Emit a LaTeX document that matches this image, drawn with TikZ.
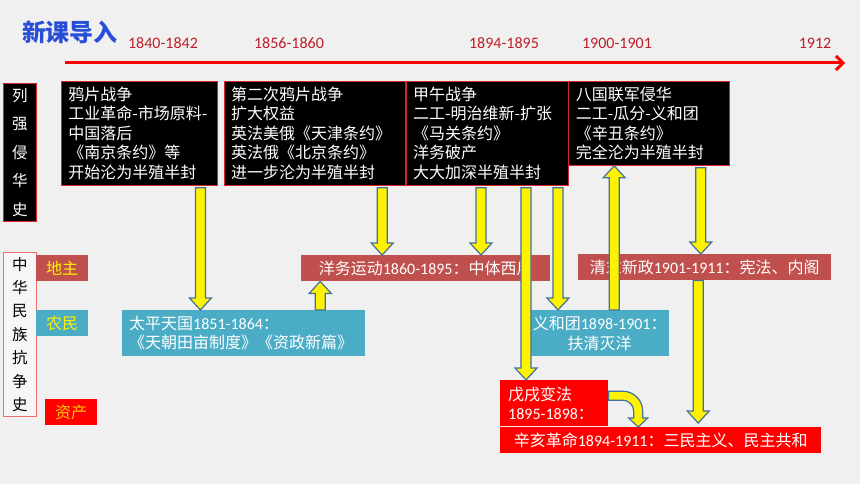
\documentclass[tikz,border=0pt]{standalone}
\usepackage{fontspec}
\setmainfont{Noto Sans CJK SC}
\newfontfamily\lat{Carlito}
\usetikzlibrary{arrows.meta, positioning, calc}

\definecolor{pagegray}{RGB}{240,240,240}
\definecolor{boxred}{RGB}{220,36,40}
\definecolor{brickred}{RGB}{192,80,77}
\definecolor{skyblue}{RGB}{75,172,198}
\definecolor{arrowedge}{RGB}{65,113,156}
\definecolor{titleblue}{RGB}{40,78,214}
\definecolor{datered}{RGB}{192,30,40}
\definecolor{goldtext}{RGB}{255,200,0}
\definecolor{pinkline}{RGB}{240,110,110}

\newcommand{\cn}{\fontsize{16}{19.5}\selectfont}

\begin{document}
\begin{tikzpicture}[
    x=1pt, y=-1pt,
    evt/.style={rectangle, draw=boxred, line width=0.8pt, fill=black, text=white, align=left, inner xsep=7pt, inner ysep=2pt, minimum height=104pt, font=\cn},
    band/.style={rectangle, text=white, inner sep=0pt, minimum height=26pt, align=center, font=\cn, anchor=north west},
    tag/.style={rectangle, text=yellow, inner sep=0pt, minimum width=52pt, minimum height=26pt, font=\cn, anchor=north west},
    yearlbl/.style={text=datered, font=\lat\fontsize{16}{18}\selectfont},
    fat/.style={draw=arrowedge, fill=yellow, line width=1.2pt, line join=miter,
      to path={let \p1=(\tikztostart), \p2=(\tikztotarget), \n1={sign(\y1-\y2)} in
        (\x1-5pt,\y1) -- (\x1-5pt,\y2+\n1*12pt) -- (\x1-11pt,\y2+\n1*12pt) -- (\x1,\y2)
        -- (\x1+11pt,\y2+\n1*12pt) -- (\x1+5pt,\y2+\n1*12pt) -- (\x1+5pt,\y1) -- cycle}},
    fatbend/.style={draw=arrowedge, fill=yellow, line width=1.2pt, line join=miter,
      to path={let \p1=(\tikztostart), \p2=(\tikztotarget) in
        (\x1,\y1+4.5pt) -- (\x2-15.5pt,\y1+4.5pt)
        .. controls (\x2-4.45pt,\y1+4.5pt) and (\x2+4.5pt,\y1-4.45pt) .. (\x2+4.5pt,\y1-15.5pt)
        -- (\x2+4.5pt,\y2+9pt) -- (\x2+9.5pt,\y2+9pt) -- (\x2,\y2) -- (\x2-9.5pt,\y2+9pt) -- (\x2-4.5pt,\y2+9pt)
        -- (\x2-4.5pt,\y1-15.5pt)
        .. controls (\x2-4.5pt,\y1-9.42pt) and (\x2-9.42pt,\y1-4.5pt) .. (\x2-15.5pt,\y1-4.5pt)
        -- (\x1,\y1-4.5pt) -- cycle}}
  ]
  \fill[pagegray] (0,0) rectangle (860,484);
  \useasboundingbox (0,0) rectangle (860,484);

  % Titel und Zeitleiste
  \node[font=\fontsize{24}{28}\selectfont\bfseries, text=titleblue] (title) at (70,32) {新课导入};
  \coordinate (tl0) at (65,63);
  \coordinate (tl1) at (845,63);
  \draw[red, line width=3pt, -{Straight Barb[length=7pt, width=14pt]}] (tl0) -- (tl1);
  \node[yearlbl] (y1) at (163,43.5) {1840-1842};
  \node[yearlbl] (y2) at (289,43.5) {1856-1860};
  \node[yearlbl] (y3) at (504,43.5) {1894-1895};
  \node[yearlbl] (y4) at (617,43.5) {1900-1901};
  \node[yearlbl] (y5) at (815,43.5) {1912};

  % linke Spalten
  \node[rectangle, draw=boxred, fill=black, text=white, line width=0.8pt, minimum width=33pt, minimum height=138pt, inner sep=0pt, align=center, anchor=north west, font=\fontsize{15.5}{28.5}\selectfont] (lieqiang) at (3,83) {列\\强\\侵\\华\\史};
  \node[rectangle, draw=pinkline, fill=white!40!pagegray, text=black, line width=0.8pt, minimum width=33pt, minimum height=164pt, inner sep=0pt, align=center, anchor=north west, font=\fontsize{15.5}{23.4}\selectfont] (kangzheng) at (3,252) {中\\华\\民\\族\\抗\\争\\史};
  \node[tag, fill=brickred] (dizhu) at (36,255) {地主};
  \node[tag, fill=skyblue] (nongmin) at (36,310) {农民};
  \node[tag, fill=red, text=goldtext] (zichan) at (45,399) {资产};

  % Kriege
  \node[evt, text width=142pt, anchor=north west] (yapian) at (61,81) {鸦片战争\\工业革命-市场原料-\\中国落后\\《南京条约》等\\开始沦为半殖半封};
  \node[evt, text width=167pt, right=6pt of yapian] (erci) {第二次鸦片战争\\扩大权益\\英法美俄《天津条约》\\英法俄《北京条约》\\进一步沦为半殖半封};
  \node[evt, text width=148pt, right=0pt of erci] (jiawu) {甲午战争\\二工-明治维新-扩张\\《马关条约》\\洋务破产\\大大加深半殖半封};
  \node[evt, text width=147pt, minimum height=84pt, anchor=north west] (baguo) at (jiawu.north east) {八国联军侵华\\二工-瓜分-义和团\\《辛丑条约》\\完全沦为半殖半封};

  % Bewegungen
  \node[band, fill=brickred, minimum width=249pt] (yangwu) at (301,255) {洋务运动{\lat 1860-1895}：中体西用};
  \node[band, fill=brickred, minimum width=253pt] (qingmo) at (578,254) {清末新政{\lat 1901-1911}：宪法、内阁};
  \node[band, fill=skyblue, text width=229pt, inner xsep=7pt, minimum height=46pt, align=left] (taiping) at (122,310) {太平天国{\lat 1851-1864}：\\《天朝田亩制度》《资政新篇》};
  \node[band, fill=skyblue, minimum width=139pt, minimum height=46pt] (yihe) at (530,310) {义和团{\lat 1898-1901}：\\扶清灭洋};
  \node[band, fill=red, text width=92pt, inner xsep=8pt, minimum height=46pt, align=left] (wuxu) at (500,380) {戊戌变法\\{\lat 1895-1898}：};
  \node[band, fill=red, minimum width=321pt] (xinhai) at (500,427) {辛亥革命{\lat 1894-1911}：三民主义、民主共和};

  % Pfeile
  \coordinate (a1) at ([xshift=61pt, yshift=-2pt]yapian.south);
  \coordinate (a2) at ([xshift=67.5pt, yshift=-2pt]erci.south);
  \coordinate (a3) at ([xshift=-6pt, yshift=-2pt]jiawu.south);
  \coordinate (a4) at ([xshift=39pt, yshift=-2pt]jiawu.south);
  \coordinate (a5) at ([xshift=71pt, yshift=-2pt]jiawu.south);
  \coordinate (a6) at ([xshift=14.5pt]yihe.north);
  \coordinate (a7) at ([xshift=51.5pt, yshift=-2pt]baguo.south);
  \coordinate (a8) at ([xshift=-6.5pt]qingmo.south);
  \coordinate (a9) at ([xshift=76.5pt]taiping.north);
  \coordinate (b0) at ([yshift=7.5pt]wuxu.east);
  \coordinate (b1) at ([xshift=-22.5pt]xinhai.north);

  \draw[fat] (a1) to (a1 |- taiping.north);
  \draw[fat] (a2) to (a2 |- yangwu.north);
  \draw[fat] (a3) to (a3 |- yangwu.north);
  \draw[fat] (a5) to (a5 |- yihe.north);
  \draw[fat] (a4) to (a4 |- wuxu.north);
  \draw[fat] (a6) to (a6 |- baguo.south);
  \draw[fat] (a7) to (a7 |- qingmo.north);
  \draw[fat] (a8) to ([yshift=4pt]a8 |- xinhai.north);
  \draw[fat] (a9) to (a9 |- yangwu.south);
  \draw[fatbend] (b0) to (b1);
\end{tikzpicture}
\end{document}
